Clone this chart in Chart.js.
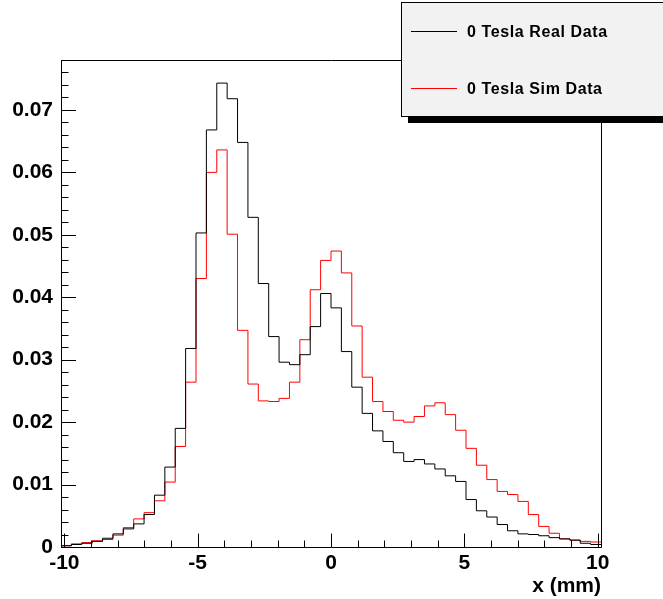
<!DOCTYPE html>
<html>
<head>
<meta charset="utf-8">
<script src="https://cdn.jsdelivr.net/npm/chart.js@4.4.1/dist/chart.umd.min.js"></script>
<style>
  body { margin: 0; background: #fff; }
  canvas { display: block; }
</style>
</head>
<body>
<canvas id="histo" width="663" height="599"></canvas>
<script>
// histogram binning (x in mm)
const xMin = -10.125;
const xMax = 10.125;
const nBins = 52;

const seriesNames = ['0 Tesla Real Data', '0 Tesla Sim Data'];

const realData = [
    0.0002, 0.0004, 0.0006, 0.0009, 0.0014, 0.0021, 0.0029, 0.0037, 0.0052, 0.0083,
    0.0128, 0.0190, 0.0318, 0.0503, 0.0668, 0.0743, 0.0718, 0.0648, 0.0528, 0.0422,
    0.0337, 0.0296, 0.0292, 0.0308, 0.0353, 0.0406, 0.0383, 0.0313, 0.0256, 0.0214,
    0.0186, 0.0169, 0.0151, 0.0137, 0.0140, 0.0133, 0.0125, 0.0114, 0.0105, 0.0076,
    0.0058, 0.0048, 0.0036, 0.0026, 0.0021, 0.0020, 0.0018, 0.0015, 0.0013, 0.0011,
    0.0006, 0.0004
];

const simData = [
    0.0002, 0.0005, 0.0007, 0.0010, 0.0012, 0.0019, 0.0031, 0.0045, 0.0055, 0.0074,
    0.0104, 0.0161, 0.0264, 0.0430, 0.0600, 0.0636, 0.0501, 0.0347, 0.0261, 0.0234,
    0.0233, 0.0238, 0.0264, 0.0332, 0.0412, 0.0459, 0.0474, 0.0439, 0.0354, 0.0272,
    0.0233, 0.0217, 0.0203, 0.0200, 0.0209, 0.0226, 0.0231, 0.0212, 0.0187, 0.0158,
    0.0131, 0.0108, 0.0089, 0.0084, 0.0073, 0.0052, 0.0033, 0.0022, 0.0013, 0.0011,
    0.0009, 0.0008
];

const xTickLabels = [-10, -5, 0, 5, 10];
const yTickLabels = [0, 0.01, 0.02, 0.03, 0.04, 0.05, 0.06, 0.07];

// left bin edges + closing point at xMax, drawn as steps
function toSteps(vals) {
    const w = (xMax - xMin) / nBins;
    const pts = vals.map(function (v, i) { return { x: xMin + i * w, y: v }; });
    pts.push({ x: xMax, y: vals[vals.length - 1] });
    return pts;
}

function isYLabel(v) {
    return yTickLabels.some(function (t) { return Math.abs(t - v) < 1e-6; });
}

// ROOT style: frame, ticks inside the frame
const rootFrame = {
    id: 'rootFrame',
    afterDatasetsDraw(chart) {
        const ctx = chart.ctx;
        const a = chart.chartArea;
        const sx = chart.scales.x, sy = chart.scales.y;
        ctx.save();
        ctx.strokeStyle = '#000';
        ctx.lineWidth = 1;
        ctx.beginPath();
        ctx.rect(a.left + 0.5, a.top + 0.5, a.right - a.left, a.bottom - a.top);
        sy.ticks.forEach(function (t) {
            const py = Math.round(sy.getPixelForValue(t.value)) + 0.5;
            const len = isYLabel(t.value) ? 15 : 7.5;
            ctx.moveTo(a.left, py);
            ctx.lineTo(a.left + len, py);
        });
        sx.ticks.forEach(function (t) {
            const px = Math.round(sx.getPixelForValue(t.value)) + 0.5;
            const len = xTickLabels.indexOf(t.value) >= 0 ? 14 : 7;
            ctx.moveTo(px, a.bottom + 0.5);
            ctx.lineTo(px, a.bottom + 0.5 - len);
        });
        ctx.stroke();
        ctx.restore();
    },
    afterDraw(chart) {
        const ctx = chart.ctx;
        ctx.save();
        // legend box with shadow
        ctx.fillStyle = '#000';
        ctx.fillRect(408, 116, 300, 7);
        ctx.fillStyle = '#f2f2f2';
        ctx.fillRect(401.5, 2.5, 300, 114);
        ctx.strokeStyle = '#000';
        ctx.lineWidth = 1;
        ctx.strokeRect(401.5, 2.5, 300, 114);
        const rows = [31.5, 88.5];
        ctx.font = 'bold 16px "Liberation Sans", Arial, sans-serif';
        ctx.letterSpacing = '0.6px';
        ctx.textBaseline = 'middle';
        chart.data.datasets.forEach(function (ds, i) {
            ctx.strokeStyle = ds.borderColor;
            ctx.beginPath();
            ctx.moveTo(411, rows[i]);
            ctx.lineTo(457, rows[i]);
            ctx.stroke();
            ctx.fillStyle = '#000';
            ctx.fillText(ds.label, 467, rows[i] + 1);
        });
        ctx.restore();
    }
};

Chart.defaults.color = '#000';
Chart.defaults.font.family = '"Liberation Sans", Arial, sans-serif';

new Chart(document.getElementById('histo'), {
    type: 'line',
    data: {
        datasets: [
            {
                label: seriesNames[0],
                data: toSteps(realData),
                borderColor: '#000000',
                borderWidth: 1,
                stepped: 'before',
                pointRadius: 0,
                fill: false
            },
            {
                label: seriesNames[1],
                data: toSteps(simData),
                borderColor: '#ff0000',
                borderWidth: 1,
                stepped: 'before',
                pointRadius: 0,
                fill: false
            }
        ]
    },
    options: {
        responsive: false,
        animation: false,
        layout: { padding: { left: 0, right: 62, top: 60, bottom: 0 } },
        plugins: {
            legend: { display: false },
            tooltip: { enabled: false }
        },
        scales: {
            x: {
                type: 'linear',
                min: xMin,
                max: xMax,
                afterBuildTicks: function (scale) {
                    const t = [];
                    for (let v = -10; v <= 10; v++) t.push({ value: v });
                    scale.ticks = t;
                },
                afterFit: function (scale) { scale.height = 52; },
                grid: { display: false, drawTicks: false },
                border: { display: false },
                ticks: {
                    autoSkip: false,
                    maxRotation: 0,
                    padding: 4,
                    font: { size: 21, weight: 'bold' },
                    callback: function (v) {
                        return xTickLabels.indexOf(v) >= 0 ? String(v) : '';
                    }
                },
                title: {
                    display: true,
                    text: 'x (mm)',
                    align: 'end',
                    padding: { top: 0, bottom: 0 },
                    font: { size: 21, weight: 'bold' }
                }
            },
            y: {
                min: 0,
                max: 0.078,
                afterFit: function (scale) { scale.width = 61; },
                grid: { display: false, drawTicks: false },
                border: { display: false },
                ticks: {
                    stepSize: 0.002,
                    autoSkip: false,
                    padding: 8,
                    font: { size: 21, weight: 'bold' },
                    callback: function (v) {
                        if (!isYLabel(v)) return '';
                        return Math.abs(v) < 1e-9 ? '0' : v.toFixed(2);
                    }
                }
            }
        }
    },
    plugins: [rootFrame]
});
</script>
</body>
</html>
